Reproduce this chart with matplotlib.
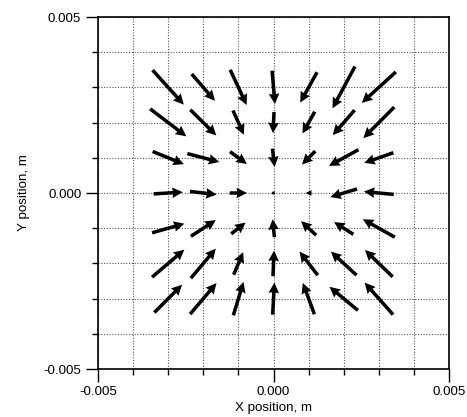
import numpy as np
import matplotlib
matplotlib.use("Agg")
import matplotlib.pyplot as plt
from matplotlib.ticker import MultipleLocator, FormatStrFormatter

plt.rcParams['font.family'] = ['Liberation Sans', 'DejaVu Sans']

# Grid positions (m)
x_pos = [-0.003, -0.002, -0.001, 0.0, 0.001, 0.002, 0.003]
y_pos = [0.003, 0.002, 0.001, 0.0, -0.001, -0.002, -0.003]

# Arrow components (units of 1e-3 m), rows follow y_pos, columns follow x_pos
u_rows = [
    [0.89, 0.66, 0.47, 0.08, -0.48, -0.64, -0.97],
    [1.03, 0.74, 0.31, -0.03, -0.35, -0.62, -0.88],
    [0.89, 0.91, 0.48, 0.06, -0.38, -0.84, -0.83],
    [0.83, 0.76, 0.49, 0.00, -0.17, -0.76, -0.85],
    [0.92, 0.71, 0.41, -0.05, -0.43, -0.55, -0.91],
    [0.92, 0.71, 0.27, 0.03, -0.52, -0.73, -0.79],
    [0.79, 0.75, 0.29, 0.05, -0.33, -0.81, -0.81],
]
v_rows = [
    [-0.98, -0.76, -1.00, -0.95, -0.86, -1.19, -0.88],
    [-0.78, -0.73, -0.69, -0.60, -0.62, -0.71, -0.88],
    [-0.36, -0.24, -0.35, -0.52, -0.38, -0.46, -0.29],
    [0.05, -0.09, 0.00, 0.00, 0.00, -0.23, 0.08],
    [0.26, 0.46, 0.32, 0.51, 0.40, 0.35, 0.51],
    [0.78, 0.84, 0.64, 0.73, 0.67, 0.67, 0.76],
    [0.79, 0.88, 0.95, 0.91, 0.89, 0.67, 0.91],
]

X, Y = np.meshgrid(x_pos, y_pos)
U = np.array(u_rows) * 1e-3
V = np.array(v_rows) * 1e-3

fig = plt.figure(figsize=(4.67, 4.17), dpi=100)
ax = fig.add_axes([0.2099, 0.1151, 0.7516, 0.8441])

ax.quiver(X, Y, U, V, angles='xy', scale_units='xy', scale=1, pivot='mid',
          units='xy', width=0.0001, headwidth=3.0, headlength=3.0,
          headaxislength=2.8, color='black', zorder=3)

ax.set_xlim(-0.005, 0.005)
ax.set_ylim(-0.005, 0.005)
ax.xaxis.set_major_locator(MultipleLocator(0.005))
ax.yaxis.set_major_locator(MultipleLocator(0.005))
ax.xaxis.set_minor_locator(MultipleLocator(0.001))
ax.yaxis.set_minor_locator(MultipleLocator(0.001))
ax.xaxis.set_major_formatter(FormatStrFormatter('%.3f'))
ax.yaxis.set_major_formatter(FormatStrFormatter('%.3f'))

ax.grid(True, which='both', linestyle=(0, (1, 1.5)), color='#555555', linewidth=0.8)
ax.tick_params(which='major', direction='out', length=9, width=1, labelsize=9.6, pad=3)
ax.tick_params(which='minor', direction='out', length=4, width=1)
for s in ax.spines.values():
    s.set_linewidth(1.2)

ax.set_xlabel('X position, m', fontsize=9.6, labelpad=3)
ax.set_ylabel('Y position, m', fontsize=9.6, labelpad=10)

fig.savefig('out.png', dpi=100)
